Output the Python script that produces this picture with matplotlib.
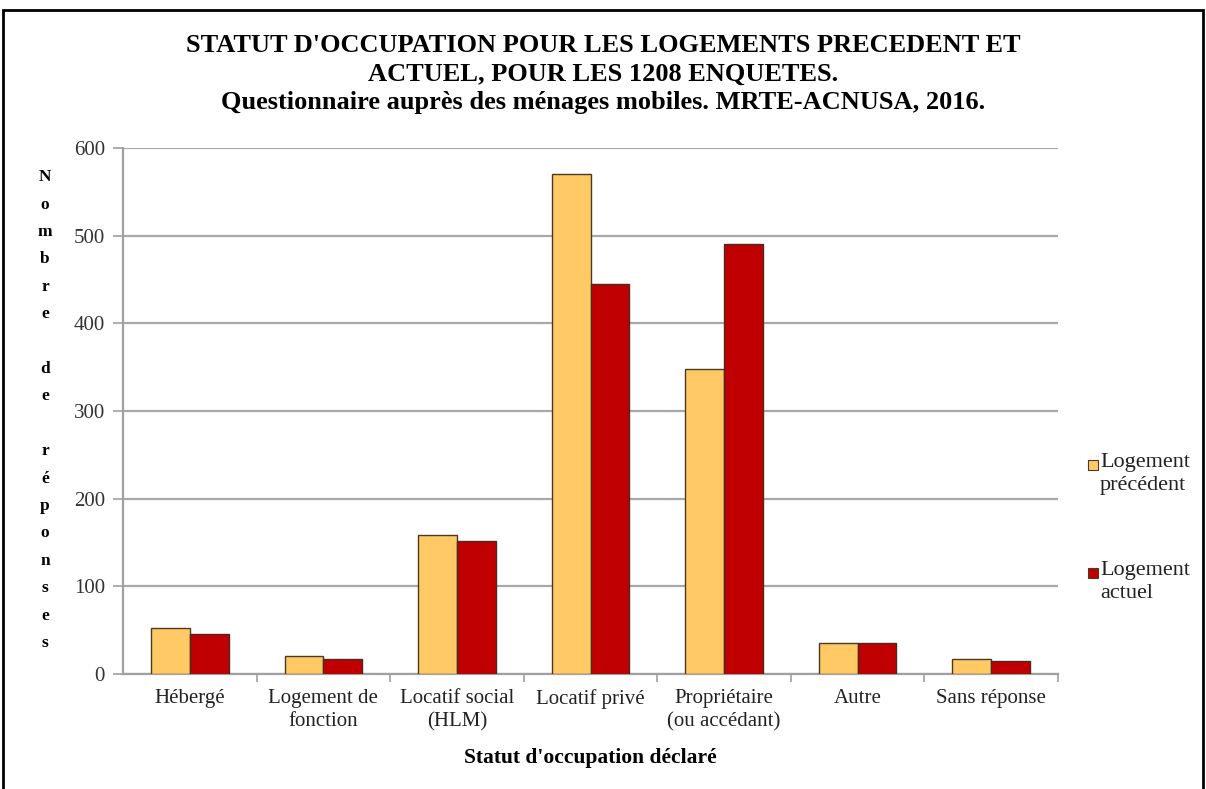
import numpy as np
import matplotlib.pyplot as plt
from matplotlib.patches import Rectangle

plt.rcParams['font.family'] = ['Liberation Serif', 'DejaVu Serif']

# Données
categories = ['Hébergé', 'Logement de\nfonction', 'Locatif social\n(HLM)', 'Locatif privé',
              'Propriétaire\n(ou accédant)', 'Autre', 'Sans réponse']
precedent = [52, 21, 159, 570, 348, 35, 17]
actuel = [46, 17, 152, 445, 490, 35, 15]
series_names = ['Logement\nprécédent', 'Logement\nactuel']
colors = ['#FFC966', '#C00000']

W, H = 1206, 789
fig = plt.figure(figsize=(W / 100, H / 100), dpi=100)
ax = fig.add_axes([123 / W, 1 - 674 / H, (1058 - 123) / W, (674 - 148) / H])

x = np.arange(len(categories))
bw = 0.29
ax.bar(x - bw / 2, precedent, bw, color=colors[0], edgecolor='#4a3a20', linewidth=1.0, zorder=3)
ax.bar(x + bw / 2, actuel, bw, color=colors[1], edgecolor='#4a2a20', linewidth=1.0, zorder=3)

ax.set_xlim(-0.5, len(categories) - 0.5)
ax.set_ylim(0, 600)
ax.set_yticks(range(0, 601, 100))
ax.yaxis.grid(True, color='#A8A8A8', linewidth=1.6, zorder=0)
ax.set_axisbelow(True)

ax.set_xticks(x)
ax.set_xticklabels(categories, fontsize=15, color='#222222', linespacing=1.3)
ax.set_xticks(np.arange(0.5, len(categories), 1), minor=True)
ax.tick_params(axis='x', which='major', length=0, pad=11)
ax.tick_params(axis='x', which='minor', length=6, color='#A0A0A0', width=1.2)
ax.tick_params(axis='y', length=7, color='#A0A0A0', width=1.2, labelsize=15,
               labelcolor='#333333', pad=6)

for s in ['top', 'right']:
    ax.spines[s].set_visible(False)
for s in ['left', 'bottom']:
    ax.spines[s].set_color('#A0A0A0')
    ax.spines[s].set_linewidth(1.6)

ax.set_xlabel("Statut d'occupation déclaré", fontsize=15.5, fontweight='bold', labelpad=12)

# Titre
fig.text(0.5, 1 - 45 / H, "STATUT D'OCCUPATION POUR LES LOGEMENTS PRECEDENT ET",
         ha='center', va='center', fontsize=19, fontweight='bold')
fig.text(0.5, 1 - 74 / H, "ACTUEL, POUR LES 1208 ENQUETES.",
         ha='center', va='center', fontsize=19, fontweight='bold')
fig.text(0.5, 1 - 103 / H, "Questionnaire auprès des ménages mobiles. MRTE-ACNUSA, 2016.",
         ha='center', va='center', fontsize=19, fontweight='bold')

# Titre axe Y vertical, une lettre par ligne
ylab = "Nombre de réponses"
fig.text(45 / W, 1 - 410 / H, '\n'.join(ylab),
         ha='center', va='center', multialignment='center', fontsize=12.5,
         fontweight='bold', linespacing=1.95)

# Légende
leg_y = [465, 573]
for name, col, yy in zip(series_names, colors, leg_y):
    fig.patches.append(Rectangle((1088 / W, 1 - (yy + 5) / H), 10 / W, 10 / H,
                                 transform=fig.transFigure, facecolor=col,
                                 edgecolor='#4a3a20', linewidth=0.8))
    fig.text(1100 / W, 1 - (yy - 12) / H, name, ha='left', va='top', fontsize=16,
             color='#222222', linespacing=1.3)

# Cadre
fig.patches.append(Rectangle((3 / W, -0.01), (1203 - 3) / W, 1 - 10 / H + 0.01,
                             transform=fig.transFigure, fill=False,
                             edgecolor='black', linewidth=2))

fig.savefig('out.png', dpi=100)
